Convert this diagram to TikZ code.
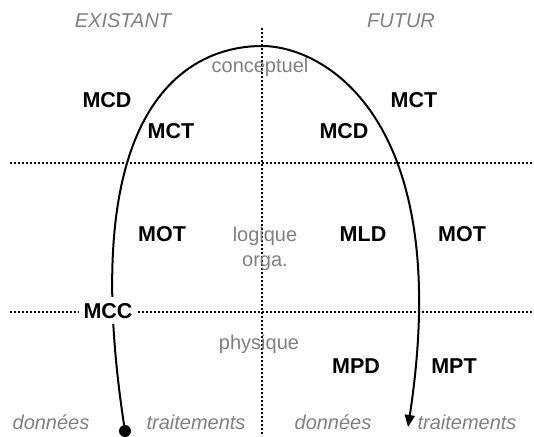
\documentclass[tikz,border=0pt]{standalone}
\usepackage{fontspec}
\setmainfont{Liberation Sans}
\usetikzlibrary{arrows.meta}
\definecolor{txtgray}{RGB}{128,128,128}

\begin{document}
\begin{tikzpicture}[x=1pt, y=-1pt, font=\fontsize{20}{24}\selectfont,
    model/.style={font=\fontsize{21.5}{24}\selectfont\bfseries, anchor=base},
    level/.style={text=txtgray, anchor=base},
    side/.style={text=txtgray, font=\fontsize{20}{24}\selectfont\itshape, anchor=base},
    sep/.style={dotted, line width=2pt}]
    \useasboundingbox (0,0) rectangle (534,436);
    % separations
    \draw[sep] (262,28) -- (262,436);
    \draw[sep] (10,163) -- (534,163);
    \draw[sep] (10,312) -- (534,312);
    % existant / futur
    \node[side] (exist) at (123,28) {EXISTANT};
    \node[side] (futur) at (401,28) {FUTUR};
    \node[side] (don1) at (51,429) {données};
    \node[side] (trt1) at (196,429) {traitements};
    \node[side] (don2) at (333,429) {données};
    \node[side] (trt2) at (467,429) {traitements};
    % niveaux
    \node[level] (concept) at (260,72) {conceptuel};
    \node[level] (logique) at (265,241) {logique};
    \node[level] (orga) at (265,266) {orga.};
    \node[level] (phys) at (259,349) {physique};
    % modeles
    \node[model] (mcd1) at (107,107) {MCD};
    \node[model] (mct1) at (171,138) {MCT};
    \node[model] (mcd2) at (344,138) {MCD};
    \node[model] (mct2) at (414,107) {MCT};
    \node[model] (mot1) at (162,241) {MOT};
    \node[model] (mld) at (363,241) {MLD};
    \node[model] (mot2) at (462,241) {MOT};
    \node[model] (mpd) at (356,373) {MPD};
    \node[model] (mpt) at (454,373) {MPT};
    % parcours
    \node[circle, fill, inner sep=0pt, minimum size=12pt] (start) at (125,431) {};
    \coordinate (top) at (262,46);
    \coordinate (end) at (408,427);
    \draw[line width=2pt, -{Triangle[length=12pt, width=10pt]}] (start)
        .. controls (70,70) and (215,46) .. (top)
        .. controls (325,46) and (455,120) .. (end);
    \node[model, fill=white, inner xsep=5pt, inner ysep=6pt] (mcc) at (108,318) {MCC};
\end{tikzpicture}
\end{document}
